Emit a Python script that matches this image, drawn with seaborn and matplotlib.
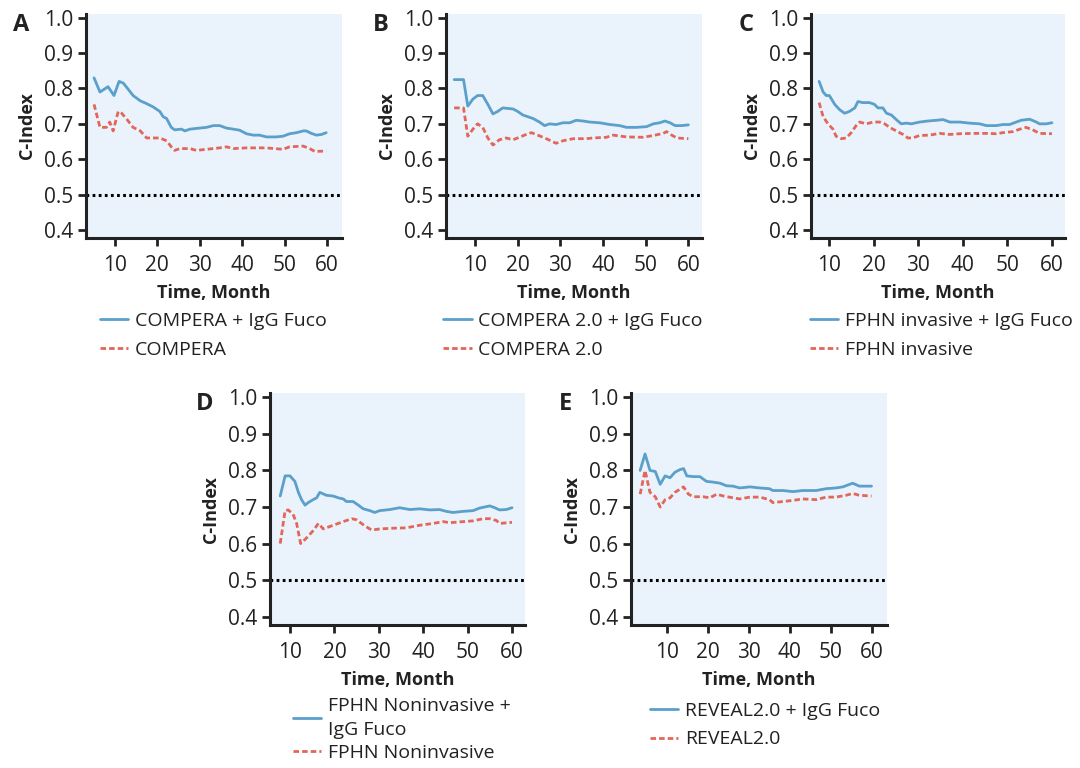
import matplotlib
matplotlib.use("Agg")
import matplotlib.pyplot as plt
import seaborn as sns
import pandas as pd

# Panel A: COMPERA
a_t_fuco = [5.1, 6.5, 8.4, 9.8, 11, 12, 13, 14.3, 16, 17.5, 19, 20.6, 21.4, 22.2, 23.3, 24.1, 25.7, 26.5,
            27.7, 30, 31.6, 33.2, 34.7, 36.3, 37.9, 39.4, 41, 42.6, 44.1, 45.7, 48, 49.6, 51.2, 52.8, 54.4,
            55.1, 56.3, 57.5, 58.7, 59.8]
a_fuco = [0.83, 0.79, 0.805, 0.78, 0.82, 0.815, 0.80, 0.78, 0.765, 0.757, 0.748, 0.735, 0.72, 0.715, 0.69,
          0.683, 0.685, 0.68, 0.685, 0.688, 0.69, 0.695, 0.695, 0.688, 0.685, 0.682, 0.672, 0.668, 0.668,
          0.663, 0.663, 0.665, 0.672, 0.675, 0.68, 0.68, 0.673, 0.668, 0.67, 0.675]
a_t_base = [5.1, 6.5, 8, 8.8, 9.6, 10.8, 11.6, 12.7, 14.3, 16, 17.5, 19, 20.6, 22.2, 23.3, 24.1, 25.3, 27.7,
            29.2, 31.6, 34.7, 36.3, 37.9, 41, 45.7, 49.6, 51.2, 54.4, 55.9, 57.1, 59.8]
a_base = [0.755, 0.69, 0.69, 0.705, 0.68, 0.735, 0.73, 0.715, 0.69, 0.68, 0.66, 0.66, 0.66, 0.652, 0.635,
          0.625, 0.63, 0.63, 0.625, 0.628, 0.632, 0.635, 0.63, 0.632, 0.632, 0.628, 0.635, 0.637, 0.63,
          0.622, 0.623]

# Panel B: COMPERA 2.0
b_t_fuco = [5.1, 7.3, 8.3, 9.5, 10.6, 11.8, 13, 14.2, 15.3, 16.5, 18.9, 20, 21.2, 22.4, 23.6, 25.1, 26.3,
            27.5, 29, 30.6, 32.2, 33.7, 35.3, 36.9, 39.2, 41.6, 43.9, 45.5, 47.8, 50.2, 51.8, 53.3, 54.5,
            55.7, 56.9, 58.4, 60]
b_fuco = [0.825, 0.825, 0.75, 0.77, 0.78, 0.78, 0.755, 0.728, 0.735, 0.745, 0.742, 0.735, 0.725, 0.72,
          0.715, 0.705, 0.695, 0.70, 0.698, 0.703, 0.703, 0.71, 0.708, 0.705, 0.703, 0.698, 0.695, 0.69,
          0.69, 0.692, 0.70, 0.703, 0.708, 0.703, 0.695, 0.695, 0.697]
b_t_base = [5.1, 7.3, 8.3, 9.5, 10.6, 11.8, 13, 14.2, 15.7, 17.3, 18.9, 20.4, 22, 23.2, 24.3, 26.7, 29,
            30.6, 33, 36.1, 37.7, 40.8, 42.4, 45.5, 49.4, 51.8, 54.1, 54.9, 56.1, 57.3, 60]
b_base = [0.745, 0.745, 0.665, 0.685, 0.70, 0.69, 0.66, 0.64, 0.655, 0.66, 0.655, 0.662, 0.67, 0.675,
          0.67, 0.658, 0.645, 0.652, 0.658, 0.658, 0.66, 0.662, 0.668, 0.663, 0.662, 0.667, 0.673, 0.678,
          0.668, 0.66, 0.658]

# Panel C: FPHN invasive
c_t_fuco = [7.8, 8.7, 9.4, 10.1, 11.3, 12.4, 13.5, 14.6, 15.8, 16.5, 17.6, 19.1, 20.2, 21, 22.1, 22.9, 24,
            25.1, 26.2, 27.3, 28.5, 30.3, 32.2, 34.1, 35.6, 37.1, 39.3, 41.5, 43.8, 45.3, 47.5, 49, 50.5,
            52, 53.1, 55, 56.5, 57.2, 58.7, 60]
c_fuco = [0.82, 0.79, 0.78, 0.78, 0.755, 0.74, 0.73, 0.735, 0.745, 0.763, 0.76, 0.76, 0.755, 0.745, 0.745,
          0.73, 0.725, 0.712, 0.70, 0.702, 0.70, 0.705, 0.708, 0.71, 0.712, 0.705, 0.705, 0.702, 0.70,
          0.695, 0.695, 0.698, 0.698, 0.705, 0.71, 0.713, 0.705, 0.70, 0.70, 0.703]
c_t_base = [7.8, 8.7, 9.8, 10.9, 11.6, 12.8, 13.9, 15, 16.1, 16.9, 18.4, 19.9, 21.4, 22.5, 23.6, 25.1,
            26.6, 27.7, 28.8, 30.3, 32.6, 34.8, 37.1, 39.3, 42.3, 45.3, 47.5, 49, 51.3, 52.8, 54.2, 55.7,
            57.2, 60]
c_base = [0.76, 0.72, 0.70, 0.685, 0.665, 0.658, 0.66, 0.675, 0.695, 0.705, 0.70, 0.705, 0.705, 0.70,
          0.69, 0.68, 0.67, 0.66, 0.66, 0.667, 0.668, 0.673, 0.67, 0.672, 0.673, 0.673, 0.672, 0.675,
          0.678, 0.685, 0.69, 0.683, 0.673, 0.672]

# Panel D: FPHN Noninvasive
d_t_fuco = [7.8, 8.9, 10, 11.1, 11.9, 12.6, 13.4, 14.1, 15.2, 16, 16.7, 18.2, 19.7, 20.9, 22, 22.7, 24.2,
            25.4, 26.5, 28, 29.1, 30.2, 32.5, 34.7, 37, 39.2, 41.5, 43.7, 45.2, 46.7, 49, 51.2, 52.7, 55,
            56.1, 57.2, 58.7, 60]
d_fuco = [0.73, 0.785, 0.785, 0.77, 0.74, 0.72, 0.705, 0.712, 0.72, 0.725, 0.74, 0.732, 0.73, 0.725,
          0.722, 0.715, 0.715, 0.705, 0.695, 0.69, 0.685, 0.69, 0.693, 0.698, 0.693, 0.695, 0.692, 0.693,
          0.688, 0.685, 0.688, 0.69, 0.697, 0.703, 0.698, 0.692, 0.693, 0.698]
d_t_base = [7.8, 8.9, 9.6, 10.7, 11.5, 12.4, 13.7, 15.2, 16.4, 17.5, 19.7, 22, 23.9, 25, 26.9, 28.4, 30.2,
            33.2, 36.2, 39.2, 42.2, 44.5, 46, 49, 51.2, 53.5, 55, 56.5, 57.2, 60]
d_base = [0.60, 0.69, 0.692, 0.68, 0.655, 0.60, 0.615, 0.635, 0.655, 0.64, 0.65, 0.66, 0.668, 0.665,
          0.648, 0.637, 0.64, 0.642, 0.643, 0.65, 0.655, 0.66, 0.657, 0.66, 0.662, 0.668, 0.668, 0.663,
          0.655, 0.658]

# Panel E: REVEAL2.0
e_t_fuco = [3.5, 4.7, 5.9, 7.2, 8.4, 9.6, 10.8, 12, 13.2, 14.1, 14.9, 16.5, 18.1, 19.7, 21.3, 23, 24.6,
            26.2, 27.8, 30.3, 32.7, 35.1, 35.9, 38.4, 40.8, 43.2, 46.5, 48.9, 51.3, 53, 55.4, 57, 60]
e_fuco = [0.80, 0.845, 0.80, 0.797, 0.762, 0.785, 0.78, 0.795, 0.802, 0.805, 0.785, 0.783, 0.783, 0.77,
          0.768, 0.765, 0.758, 0.757, 0.752, 0.755, 0.752, 0.75, 0.745, 0.745, 0.742, 0.745, 0.745, 0.75,
          0.752, 0.755, 0.765, 0.757, 0.757]
e_t_base = [3.5, 4.7, 5.9, 7.2, 8.4, 9.6, 10.8, 12, 14.1, 15.3, 16.5, 18.9, 20.5, 22.2, 23.8, 26.2, 27.8,
            30.3, 32.7, 35.1, 35.9, 38.4, 40.8, 43.2, 46.5, 48.9, 51.3, 53.8, 55.4, 57, 60]
e_base = [0.735, 0.80, 0.74, 0.728, 0.70, 0.72, 0.725, 0.74, 0.755, 0.735, 0.728, 0.728, 0.725, 0.735,
          0.73, 0.725, 0.722, 0.727, 0.727, 0.72, 0.712, 0.715, 0.718, 0.722, 0.72, 0.727, 0.727, 0.732,
          0.737, 0.732, 0.73]

panels = [
    ("A", a_t_fuco, a_fuco, a_t_base, a_base, "COMPERA + IgG Fuco", "COMPERA", (3.2, 63.5)),
    ("B", b_t_fuco, b_fuco, b_t_base, b_base, "COMPERA 2.0 + IgG Fuco", "COMPERA 2.0", (3.2, 63.2)),
    ("C", c_t_fuco, c_fuco, c_t_base, c_base, "FPHN invasive + IgG Fuco", "FPHN invasive", (6.0, 62.9)),
    ("D", d_t_fuco, d_fuco, d_t_base, d_base, "FPHN Noninvasive +\nIgG Fuco", "FPHN Noninvasive", (5.5, 62.9)),
    ("E", e_t_fuco, e_fuco, e_t_base, e_base, "REVEAL2.0 + IgG Fuco", "REVEAL2.0", (1.2, 63.7)),
]

# axes boxes in figure fraction [left, bottom, width, height]
boxes = [
    [0.0796, 0.690, 0.237, 0.292],
    [0.413, 0.690, 0.237, 0.292],
    [0.751, 0.690, 0.235, 0.292],
    [0.250, 0.186, 0.236, 0.302],
    [0.584, 0.186, 0.237, 0.302],
]
# legend anchor (axes fraction), upper-left corner
legend_xy = [(0.055, -0.33), (-0.01, -0.33), (-0.005, -0.33), (0.09, -0.31), (0.075, -0.33)]

BLUE = "#5b9fcb"
RED = "#e2665a"
BG = "#eaf3fb"
INK = "#222222"

sns.set_style("ticks")
plt.rcParams["font.family"] = ["Open Sans", "DejaVu Sans"]

fig = plt.figure(figsize=(10.8, 7.68), dpi=100)

for (letter, tf, yf, tb, yb, lab_f, lab_b, xlim), box, lxy in zip(panels, boxes, legend_xy):
    ax = fig.add_axes(box)
    ax.set_facecolor(BG)
    df_f = pd.DataFrame({"t": tf, "c": yf})
    df_b = pd.DataFrame({"t": tb, "c": yb})
    sns.lineplot(data=df_f, x="t", y="c", ax=ax, color=BLUE, lw=2, label=lab_f)
    sns.lineplot(data=df_b, x="t", y="c", ax=ax, color=RED, lw=2, linestyle=(0, (2.0, 1.1)), label=lab_b)
    ax.axhline(0.5, color="black", lw=2.2, linestyle=(0, (0.9, 1.1)))

    ax.set_xlim(*xlim)
    ax.set_ylim(0.377, 1.011)
    ax.set_xticks([10, 20, 30, 40, 50, 60])
    ax.set_yticks([0.4, 0.5, 0.6, 0.7, 0.8, 0.9, 1.0])
    ax.set_yticklabels([f"{v:.1f}" for v in [0.4, 0.5, 0.6, 0.7, 0.8, 0.9, 1.0]])
    ax.tick_params(axis="both", labelsize=15, width=2, length=6, color=INK, labelcolor=INK)
    ax.tick_params(axis="x", pad=6)
    ax.tick_params(axis="y", pad=3)
    sns.despine(ax=ax)
    for s in ("left", "bottom"):
        ax.spines[s].set_linewidth(2.2)
        ax.spines[s].set_color(INK)

    ax.set_xlabel("Time, Month", fontsize=13, fontweight="bold", color=INK, labelpad=6)
    ax.set_ylabel("C-Index", fontsize=13, fontweight="bold", color=INK, labelpad=6)
    ax.text(-0.255, 1.005, letter, transform=ax.transAxes, fontsize=17, fontweight="bold",
            color=INK, va="top", ha="center")

    two_line = "\n" in lab_f
    leg = ax.legend(loc="upper left", bbox_to_anchor=lxy, frameon=False, fontsize=14,
                    handlelength=1.45, handletextpad=0.35,
                    labelspacing=0.25 if two_line else 0.55, borderpad=0,
                    borderaxespad=0, labelcolor=INK)
    for t in leg.get_texts():
        t.set_linespacing(1.4 if two_line else 1.2)

fig.savefig("out.png", dpi=100, facecolor="white")
